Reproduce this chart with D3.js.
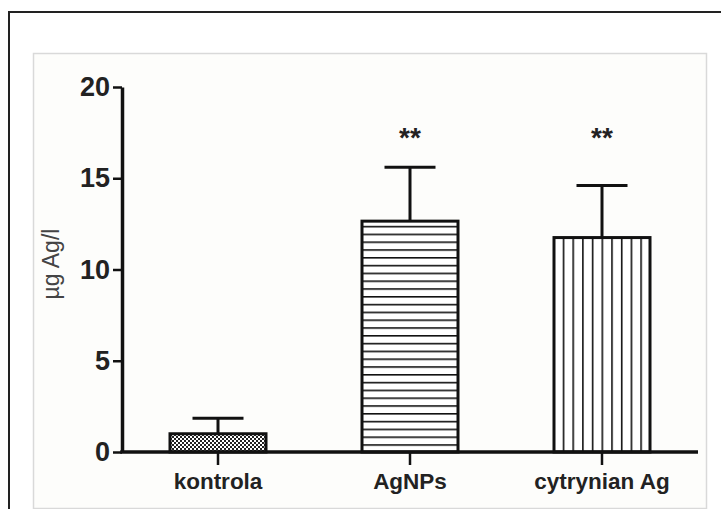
<!DOCTYPE html>
<html>
<head>
<meta charset="utf-8">
<script src="https://cdn.jsdelivr.net/npm/d3@7"></script>
<style>
  html, body { margin: 0; padding: 0; background: #fff; }
  svg { display: block; }
</style>
</head>
<body>
<svg id="chart"></svg>
<script>
// data
const categories = ["kontrola", "AgNPs", "cytrynian Ag"];
const means = [1.0, 12.65, 11.75];
const errors = [0.85, 2.95, 2.85];
const marks = ["", "**", "**"];
const markLevel = 16.7;
const yTicks = [0, 5, 10, 15, 20];
const patterns = ["checker", "hlines", "vlines"];

const width = 721, height = 509;
const margin = {top: 87, bottom: 57, left: 122, right: 23};

const svg = d3.select("#chart")
    .attr("width", width)
    .attr("height", height);

// outer frame (only left + top visible)
svg.append("path")
    .attr("d", `M9,${height + 5} V12 H${width + 5}`)
    .attr("fill", "none")
    .attr("stroke", "#222")
    .attr("stroke-width", 2);

// inner panel
svg.append("rect")
    .attr("x", 33.5).attr("y", 53.5)
    .attr("width", 673).attr("height", 455)
    .attr("fill", "#fdfdfb")
    .attr("stroke", "#d9d9d9")
    .attr("stroke-width", 1.5);

// patterns
const defs = svg.append("defs");
const chk = defs.append("pattern").attr("id", "checker")
    .attr("patternUnits", "userSpaceOnUse").attr("width", 4).attr("height", 4);
chk.append("rect").attr("width", 4).attr("height", 4).attr("fill", "#fff");
chk.append("rect").attr("width", 2).attr("height", 2).attr("fill", "#222");
chk.append("rect").attr("x", 2).attr("y", 2).attr("width", 2).attr("height", 2).attr("fill", "#222");

const hl = defs.append("pattern").attr("id", "hlines")
    .attr("patternUnits", "userSpaceOnUse").attr("width", 8).attr("height", 7.8)
    .attr("y", 452);
hl.append("rect").attr("width", 8).attr("height", 7.8).attr("fill", "#fff");
hl.append("rect").attr("y", 0).attr("width", 8).attr("height", 1.6).attr("fill", "#111");

const vl = defs.append("pattern").attr("id", "vlines")
    .attr("patternUnits", "userSpaceOnUse").attr("width", 9.7).attr("height", 8)
    .attr("x", 553);
vl.append("rect").attr("width", 9.7).attr("height", 8).attr("fill", "#fff");
vl.append("rect").attr("x", 0).attr("width", 1.6).attr("height", 8).attr("fill", "#111");

// scales
const x = d3.scaleBand()
    .domain(categories)
    .range([margin.left, width - margin.right])
    .paddingInner(0.5)
    .paddingOuter(0.25);

const y = d3.scaleLinear()
    .domain([0, 20])
    .range([height - margin.bottom, margin.top]);

const data = categories.map((c, i) => ({cat: c, mean: means[i], err: errors[i], mark: marks[i], pat: patterns[i]}));

// error bars (drawn under bars)
const eb = svg.append("g").attr("stroke", "#111").attr("stroke-width", 3);
data.forEach(d => {
    const cx = x(d.cat) + x.bandwidth() / 2;
    eb.append("line")
        .attr("x1", cx).attr("x2", cx)
        .attr("y1", y(d.mean)).attr("y2", y(d.mean + d.err));
    eb.append("line")
        .attr("x1", cx - 25.5).attr("x2", cx + 25.5)
        .attr("y1", y(d.mean + d.err)).attr("y2", y(d.mean + d.err));
});

// bars
svg.selectAll("rect.bar")
    .data(data)
    .enter().append("rect")
    .attr("class", "bar")
    .attr("x", d => x(d.cat))
    .attr("y", d => y(d.mean))
    .attr("width", x.bandwidth())
    .attr("height", d => y(0) - y(d.mean))
    .attr("fill", d => `url(#${d.pat})`)
    .attr("stroke", "#111")
    .attr("stroke-width", 3);

// significance marks
svg.selectAll("text.mark")
    .data(data)
    .enter().append("text")
    .attr("class", "mark")
    .attr("x", d => x(d.cat) + x.bandwidth() / 2)
    .attr("y", y(markLevel))
    .attr("text-anchor", "middle")
    .style("font-family", "Liberation Sans, Arial, sans-serif")
    .style("font-size", "28px")
    .style("font-weight", "bold")
    .style("fill", "#222")
    .text(d => d.mark);

// y axis
const yAxis = svg.append("g")
    .attr("transform", `translate(${margin.left},0)`)
    .call(d3.axisLeft(y).tickValues(yTicks).tickSize(9).tickPadding(3).tickSizeOuter(0));
yAxis.select(".domain").attr("stroke", "#111").attr("stroke-width", 3.5);
yAxis.selectAll(".tick line").attr("stroke", "#111").attr("stroke-width", 2.5);
yAxis.selectAll(".tick text")
    .style("font-family", "Liberation Sans, Arial, sans-serif")
    .style("font-size", "27px")
    .style("font-weight", "bold")
    .style("fill", "#222");

// x axis
const xAxis = svg.append("g")
    .attr("transform", `translate(0,${y(0)})`)
    .call(d3.axisBottom(x).tickSize(13).tickPadding(8).tickSizeOuter(0));
xAxis.select(".domain").attr("stroke", "#111").attr("stroke-width", 3.5)
    .attr("d", `M${margin.left - 1.75},0H${width - margin.right}`);
xAxis.selectAll(".tick line").attr("stroke", "#111").attr("stroke-width", 2.5);
xAxis.selectAll(".tick text")
    .style("font-family", "Liberation Sans, Arial, sans-serif")
    .style("font-size", "22.5px")
    .style("font-weight", "bold")
    .style("fill", "#222");

// y label
svg.append("text")
    .attr("transform", "translate(59,264) rotate(-90)")
    .attr("text-anchor", "middle")
    .style("font-family", "Liberation Sans, Arial, sans-serif")
    .style("font-size", "23px")
    .style("fill", "#444")
    .text("µg Ag/l");
</script>
</body>
</html>
